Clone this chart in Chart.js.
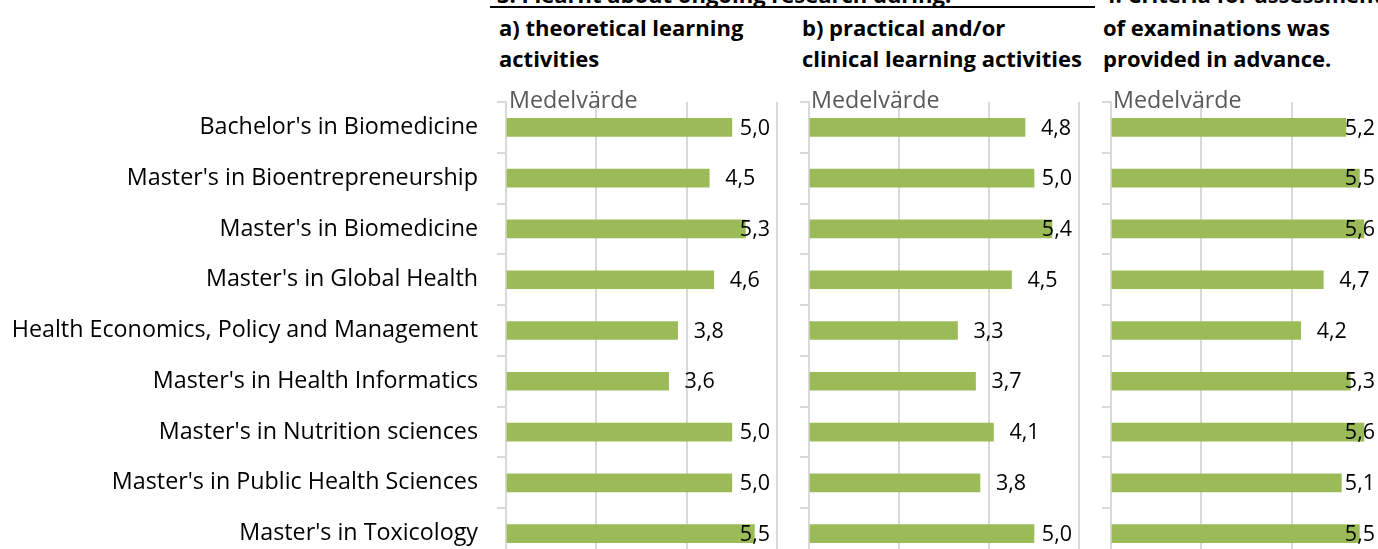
<!DOCTYPE html>
<html>
<head>
<meta charset="utf-8">
<script src="https://cdn.jsdelivr.net/npm/chart.js@4"></script>
<style>
  html, body { margin: 0; padding: 0; background: #fff; }
  body { width: 1378px; height: 549px; overflow: hidden; position: relative; font-family: "Open Sans", sans-serif; }
  .panel { position: absolute; top: 0; height: 570px; }
  .head { position: absolute; font-weight: bold; font-size: 22px; line-height: 31px; color: #000; white-space: nowrap; }
  .rule { position: absolute; left: 490px; top: 6px; width: 605px; height: 2px; background: #000; }
  .axis-title { position: absolute; top: 83px; font-size: 23.3px; color: #595959; white-space: nowrap; }
</style>
</head>
<body>
<div class="head" style="left:497px; top:-21px;">3. I learnt about ongoing research during:</div>
<div class="rule"></div>
<div class="head" style="left:499px; top:12px;">a) theoretical learning<br>activities</div>
<div class="head" style="left:802px; top:12px;">b) practical and/or<br>clinical learning activities</div>
<div class="head" style="left:1103px; top:-21px;">4. Criteria for assessment</div>
<div class="head" style="left:1103px; top:12px;">of examinations was<br>provided in advance.</div>

<div class="panel" style="left:0; width:790px;"><canvas id="chartA"></canvas></div>
<div class="panel" style="left:790px; width:300px;"><canvas id="chartB"></canvas></div>
<div class="panel" style="left:1090px; width:310px;"><canvas id="chartC"></canvas></div>

<div class="axis-title" style="left:509px;">Medelvärde</div>
<div class="axis-title" style="left:811px;">Medelvärde</div>
<div class="axis-title" style="left:1113px;">Medelvärde</div>

<script>
// Program names (y categories)
const programs = [
  "Bachelor's in Biomedicine",
  "Master's in Bioentrepreneurship",
  "Master's in Biomedicine",
  "Master's in Global Health",
  "Health Economics, Policy and Management",
  "Master's in Health Informatics",
  "Master's in Nutrition sciences",
  "Master's in Public Health Sciences",
  "Master's in Toxicology",
];

// Medelvärde per panel
const theoretical = [5.0, 4.5, 5.3, 4.6, 3.8, 3.6, 5.0, 5.0, 5.5];
const practical = [4.8, 5.0, 5.4, 4.5, 3.3, 3.7, 4.1, 3.8, 5.0];
const criteria = [5.2, 5.5, 5.6, 4.7, 4.2, 5.3, 5.6, 5.1, 5.5];

const xTicks = [0, 2, 4, 6];

const BAR_COLOR = "#9bbb59";
const GRID_COLOR = "#d9d9d9";
const TEXT_FONT = "Open Sans";

// Value labels: a bit right of the bar end, pushed back inside the plot when they would overflow
const valueLabels = {
  id: "valueLabels",
  afterDatasetsDraw(chart) {
    const ctx = chart.ctx;
    const area = chart.chartArea;
    const meta = chart.getDatasetMeta(0);
    ctx.save();
    ctx.font = "21.5px '" + TEXT_FONT + "'";
    ctx.fillStyle = "#000";
    ctx.textBaseline = "middle";
    ctx.textAlign = "left";
    meta.data.forEach((bar, i) => {
      const v = chart.data.datasets[0].data[i];
      const txt = v.toFixed(1).replace(".", ",");
      const w = ctx.measureText(txt).width;
      const x = Math.min(bar.x + 16, area.right - 7 - w);
      ctx.fillText(txt, x, bar.y + 1);
    });
    ctx.restore();
  },
};

function makeChart(id, values, opts) {
  const el = document.getElementById(id);
  return new Chart(el.getContext("2d"), {
    type: "bar",
    data: {
      labels: programs,
      datasets: [
        {
          data: values,
          backgroundColor: BAR_COLOR,
          barThickness: 18,
        },
      ],
    },
    options: {
      indexAxis: "y",
      responsive: true,
      maintainAspectRatio: false,
      animation: false,
      layout: {
        padding: { top: 102, right: opts.padRight, bottom: 11, left: 0 },
      },
      plugins: {
        legend: { display: false },
        tooltip: { enabled: false },
      },
      scales: {
        x: {
          min: 0,
          max: 6,
          afterBuildTicks: (scale) => {
            scale.ticks = xTicks.map((v) => ({ value: v }));
          },
          afterFit: (scale) => {
            scale.height = 0;
            scale.paddingLeft = 0;
            scale.paddingRight = 0;
          },
          ticks: { display: false },
          grid: { color: GRID_COLOR, lineWidth: 2, drawTicks: false },
          border: { display: false },
        },
        y: {
          afterFit: (scale) => {
            scale.width = opts.axisWidth;
            scale.paddingTop = 0;
            scale.paddingBottom = 0;
          },
          ticks: {
            display: opts.showLabels,
            color: "#000",
            padding: 19,
            font: { family: TEXT_FONT, size: 23.3 },
          },
          grid: {
            offset: true,
            drawOnChartArea: false,
            color: GRID_COLOR,
            lineWidth: 2,
            tickLength: 9,
          },
          border: { display: true, color: GRID_COLOR, width: 2 },
        },
      },
    },
    plugins: [valueLabels],
  });
}

makeChart("chartA", theoretical, { axisWidth: 506, padRight: 13, showLabels: true });
makeChart("chartB", practical, { axisWidth: 19, padRight: 11, showLabels: false });
makeChart("chartC", criteria, { axisWidth: 21, padRight: 18, showLabels: false });
</script>
</body>
</html>
